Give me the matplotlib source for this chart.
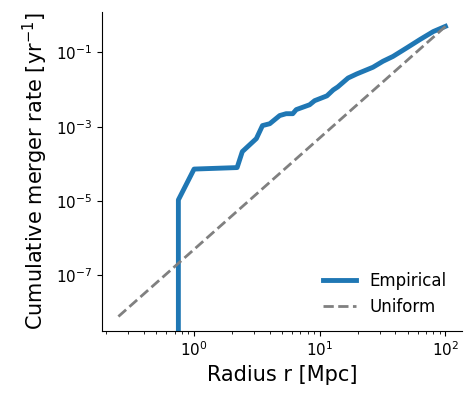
import numpy as np
import matplotlib
matplotlib.use("Agg")
import matplotlib.pyplot as plt
from matplotlib.ticker import NullLocator

# empirical cumulative merger rate
radius_emp = [0.75, 0.75, 1.0, 2.2, 2.42, 3.13, 3.5, 4.0, 4.8, 5.4, 6.1, 6.5, 8.3, 9.1,
              11.4, 12.8, 13.9, 16.8, 19.7, 26.5, 31.8, 38.2, 49.7, 63.0, 80.0, 100.0]
log_rate_emp = [None, -4.97, -4.14, -4.10, -3.67, -3.32, -2.97, -2.92, -2.70, -2.65, -2.65,
                -2.54, -2.41, -2.30, -2.17, -2.01, -1.93, -1.69, -1.58, -1.40, -1.24,
                -1.11, -0.87, -0.65, -0.44, -0.30]

# uniform model: rate ~ r^3, normalised at r = 100 Mpc
radius_uni = [0.25, 100.0]
rate_at_max = 0.5

rate_emp = [0.0 if v is None else 10 ** v for v in log_rate_emp]
r_uni = np.array(radius_uni)
rate_uni = rate_at_max * (r_uni / radius_uni[-1]) ** 3

fig, ax = plt.subplots(figsize=(4.66, 3.95), dpi=100)
fig.subplots_adjust(left=0.219, right=0.991, top=0.970, bottom=0.162)

ax.plot(radius_emp, rate_emp, color="C0", lw=3.5, label="Empirical")
ax.plot(r_uni, rate_uni, color="gray", lw=2, ls="--", label="Uniform")

ax.set_xscale("log")
ax.set_yscale("log")
ax.set_xlabel("Radius r [Mpc]", fontsize=15)
ax.set_ylabel("Cumulative merger rate [yr$^{-1}$]", fontsize=15)
ax.tick_params(labelsize=11)
ax.set_yticks([1e-7, 1e-5, 1e-3, 1e-1])
ax.yaxis.set_minor_locator(NullLocator())
ax.spines["top"].set_visible(False)
ax.spines["right"].set_visible(False)
ax.legend(loc="lower right", frameon=False, fontsize=12)

fig.savefig("out.png", dpi=100)
